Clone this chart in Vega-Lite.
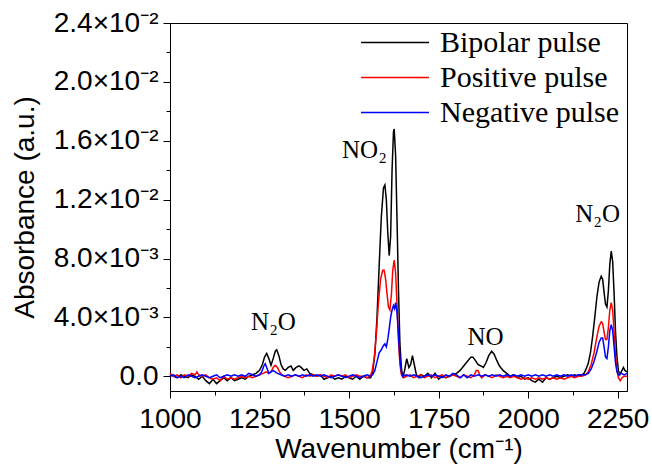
{
  "$schema": "https://vega.github.io/schema/vega-lite/v6.json",
  "width": 457,
  "height": 368,
  "autosize": {"type": "none"},
  "padding": {"left": 170, "top": 23, "right": 25, "bottom": 79},
  "background": "white",
  "config": {
    "view": {"stroke": "black", "strokeWidth": 1},
    "axis": {
      "labelFont": "Liberation Sans", "titleFont": "Liberation Sans",
      "labelFontSize": 28, "titleFontSize": 28, "titleFontWeight": "normal",
      "labelColor": "black", "titleColor": "black", "tickColor": "black", "domainColor": "black",
      "grid": false, "tickWidth": 1, "domainWidth": 1
    },
    "legend": {
      "labelFont": "Liberation Serif", "labelFontSize": 30, "labelColor": "black", "labelLimit": 400
    }
  },
  "datasets": {
    "bipolar": [
      {"w":1000,"a":0.0001},{"w":1010,"a":0.0000},{"w":1020,"a":-0.0001},{"w":1030,"a":0.0001},{"w":1040,"a":0.0000},
      {"w":1050,"a":-0.0001},{"w":1060,"a":0.0001},{"w":1070,"a":0.0000},{"w":1080,"a":-0.0002},{"w":1090,"a":0.0000},
      {"w":1100,"a":-0.0003},{"w":1110,"a":-0.0005},{"w":1120,"a":-0.0002},{"w":1130,"a":-0.0005},{"w":1140,"a":-0.0003},
      {"w":1150,"a":-0.0001},{"w":1160,"a":-0.0003},{"w":1170,"a":-0.0001},{"w":1180,"a":-0.0003},{"w":1190,"a":-0.0002},
      {"w":1200,"a":-0.0001},{"w":1210,"a":-0.0002},{"w":1220,"a":0.0000},{"w":1230,"a":0.0001},{"w":1240,"a":0.0002},
      {"w":1250,"a":0.0004},{"w":1258,"a":0.0008},{"w":1264,"a":0.0013},{"w":1270,"a":0.00155},{"w":1276,"a":0.0012},
      {"w":1282,"a":0.00075},{"w":1288,"a":0.0012},{"w":1294,"a":0.0017},{"w":1298,"a":0.0018},{"w":1304,"a":0.0014},
      {"w":1310,"a":0.0008},{"w":1316,"a":0.0005},{"w":1322,"a":0.0004},{"w":1330,"a":0.0006},{"w":1338,"a":0.0007},
      {"w":1344,"a":0.0004},{"w":1352,"a":0.0006},{"w":1360,"a":0.0007},{"w":1366,"a":0.0006},{"w":1374,"a":0.0004},
      {"w":1382,"a":0.0005},{"w":1390,"a":0.0002},{"w":1400,"a":0.0001},{"w":1410,"a":0.0000},{"w":1420,"a":0.0001},
      {"w":1430,"a":-0.0002},{"w":1440,"a":-0.0001},{"w":1450,"a":0.0000},{"w":1460,"a":-0.0002},{"w":1470,"a":-0.0001},
      {"w":1480,"a":-0.0002},{"w":1490,"a":0.0000},{"w":1500,"a":-0.0001},{"w":1510,"a":-0.0002},{"w":1520,"a":0.0000},
      {"w":1530,"a":-0.0002},{"w":1540,"a":0.0000},{"w":1550,"a":-0.0001},{"w":1560,"a":-0.0001},{"w":1566,"a":0.0003},
      {"w":1572,"a":0.0015},{"w":1578,"a":0.0040},{"w":1584,"a":0.0075},{"w":1590,"a":0.0108},{"w":1596,"a":0.0128},
      {"w":1600,"a":0.0130},{"w":1604,"a":0.0120},{"w":1608,"a":0.0098},{"w":1612,"a":0.0082},{"w":1616,"a":0.0095},
      {"w":1620,"a":0.0140},{"w":1624,"a":0.0166},{"w":1626,"a":0.0168},{"w":1630,"a":0.0150},{"w":1634,"a":0.0105},
      {"w":1638,"a":0.0058},{"w":1642,"a":0.0022},{"w":1646,"a":0.0006},{"w":1650,"a":-0.0001},{"w":1655,"a":0.0004},
      {"w":1661,"a":0.0012},{"w":1667,"a":0.0006},{"w":1672,"a":0.0008},{"w":1677,"a":0.0014},{"w":1682,"a":0.0008},
      {"w":1688,"a":0.0001},{"w":1695,"a":-0.0001},{"w":1700,"a":0.0001},{"w":1710,"a":0.0000},{"w":1720,"a":0.0002},
      {"w":1730,"a":-0.0001},{"w":1740,"a":0.0002},{"w":1750,"a":-0.0002},{"w":1760,"a":0.0000},{"w":1770,"a":-0.0001},
      {"w":1780,"a":0.0000},{"w":1790,"a":0.0001},{"w":1800,"a":0.0002},{"w":1810,"a":0.0004},{"w":1820,"a":0.0007},
      {"w":1830,"a":0.0010},{"w":1840,"a":0.0013},{"w":1846,"a":0.0013},{"w":1852,"a":0.0011},{"w":1860,"a":0.0008},
      {"w":1868,"a":0.0007},{"w":1875,"a":0.0006},{"w":1882,"a":0.0009},{"w":1890,"a":0.0014},{"w":1898,"a":0.0017},
      {"w":1905,"a":0.0015},{"w":1912,"a":0.0011},{"w":1920,"a":0.0007},{"w":1930,"a":0.0004},{"w":1940,"a":0.0002},
      {"w":1950,"a":0.0000},{"w":1960,"a":0.0001},{"w":1970,"a":-0.0001},{"w":1980,"a":0.0000},{"w":1990,"a":-0.0002},
      {"w":2000,"a":-0.0001},{"w":2010,"a":-0.0003},{"w":2020,"a":-0.0004},{"w":2030,"a":-0.0002},{"w":2040,"a":-0.0004},
      {"w":2050,"a":-0.0001},{"w":2060,"a":-0.0002},{"w":2070,"a":-0.0001},{"w":2080,"a":0.0000},{"w":2090,"a":-0.0001},
      {"w":2100,"a":0.0000},{"w":2110,"a":0.0001},{"w":2120,"a":0.0000},{"w":2130,"a":0.0001},{"w":2140,"a":0.0000},
      {"w":2150,"a":0.0001},{"w":2156,"a":0.0002},{"w":2162,"a":0.0005},{"w":2168,"a":0.0009},{"w":2174,"a":0.0016},
      {"w":2180,"a":0.0027},{"w":2186,"a":0.0040},{"w":2192,"a":0.0054},{"w":2198,"a":0.0064},{"w":2204,"a":0.0068},
      {"w":2208,"a":0.0066},{"w":2212,"a":0.0057},{"w":2216,"a":0.0049},{"w":2220,"a":0.0047},{"w":2224,"a":0.0058},
      {"w":2228,"a":0.0076},{"w":2232,"a":0.0085},{"w":2236,"a":0.0078},{"w":2240,"a":0.0056},{"w":2244,"a":0.0030},
      {"w":2248,"a":0.0013},{"w":2252,"a":0.0004},{"w":2256,"a":0.0001},{"w":2260,"a":0.0003},{"w":2266,"a":0.0006},
      {"w":2270,"a":0.0004},{"w":2276,"a":0.0003}
    ],
    "positive": [
      {"w":1000,"a":0.0002},{"w":1010,"a":0.0000},{"w":1020,"a":0.0001},{"w":1030,"a":-0.0001},{"w":1040,"a":0.0001},
      {"w":1050,"a":0.0000},{"w":1060,"a":0.0002},{"w":1070,"a":0.0001},{"w":1075,"a":0.0003},{"w":1080,"a":0.0001},
      {"w":1090,"a":0.0000},{"w":1100,"a":0.0001},{"w":1110,"a":-0.0001},{"w":1120,"a":-0.0002},{"w":1130,"a":-0.0001},
      {"w":1140,"a":-0.0003},{"w":1150,"a":0.0000},{"w":1160,"a":-0.0002},{"w":1170,"a":-0.0001},{"w":1180,"a":-0.0002},
      {"w":1190,"a":-0.0001},{"w":1200,"a":0.0000},{"w":1210,"a":-0.0001},{"w":1220,"a":0.0000},{"w":1230,"a":-0.0001},
      {"w":1240,"a":0.0000},{"w":1250,"a":0.0001},{"w":1260,"a":0.0002},{"w":1268,"a":0.0003},{"w":1276,"a":0.0002},
      {"w":1282,"a":0.0003},{"w":1288,"a":0.0006},{"w":1294,"a":0.00075},{"w":1300,"a":0.0006},{"w":1306,"a":0.0003},
      {"w":1312,"a":0.0001},{"w":1320,"a":0.0000},{"w":1330,"a":-0.0001},{"w":1340,"a":0.0000},{"w":1350,"a":0.0001},
      {"w":1360,"a":0.0000},{"w":1370,"a":-0.0001},{"w":1380,"a":0.0001},{"w":1390,"a":0.0000},{"w":1400,"a":0.0001},
      {"w":1410,"a":0.0000},{"w":1420,"a":0.0001},{"w":1430,"a":0.0000},{"w":1440,"a":-0.0001},{"w":1450,"a":0.0001},
      {"w":1460,"a":0.0000},{"w":1470,"a":0.0001},{"w":1480,"a":0.0000},{"w":1490,"a":0.0001},{"w":1500,"a":-0.0001},
      {"w":1510,"a":0.0000},{"w":1520,"a":0.0001},{"w":1530,"a":0.0000},{"w":1540,"a":0.0000},{"w":1550,"a":-0.0001},
      {"w":1558,"a":0.0000},{"w":1564,"a":0.0003},{"w":1570,"a":0.0012},{"w":1576,"a":0.0028},{"w":1582,"a":0.0050},
      {"w":1588,"a":0.0066},{"w":1594,"a":0.0072},{"w":1598,"a":0.0072},{"w":1602,"a":0.0066},{"w":1606,"a":0.0056},
      {"w":1610,"a":0.0047},{"w":1614,"a":0.0045},{"w":1618,"a":0.0055},{"w":1622,"a":0.0072},{"w":1626,"a":0.0079},
      {"w":1630,"a":0.0070},{"w":1634,"a":0.0048},{"w":1638,"a":0.0024},{"w":1642,"a":0.0008},{"w":1646,"a":0.0001},
      {"w":1652,"a":-0.0001},{"w":1660,"a":0.0000},{"w":1670,"a":0.0001},{"w":1680,"a":-0.0001},{"w":1690,"a":0.0000},
      {"w":1700,"a":0.0001},{"w":1710,"a":-0.0001},{"w":1720,"a":0.0000},{"w":1730,"a":0.0001},{"w":1740,"a":-0.0001},
      {"w":1750,"a":0.0000},{"w":1760,"a":0.0001},{"w":1770,"a":-0.0001},{"w":1780,"a":0.0000},{"w":1790,"a":0.0001},
      {"w":1800,"a":0.0000},{"w":1810,"a":-0.0001},{"w":1820,"a":0.0001},{"w":1830,"a":0.0000},{"w":1840,"a":-0.0001},
      {"w":1850,"a":0.0001},{"w":1855,"a":0.0004},{"w":1860,"a":0.0004},{"w":1865,"a":0.0001},{"w":1870,"a":-0.0001},
      {"w":1880,"a":0.0001},{"w":1890,"a":0.0000},{"w":1900,"a":-0.0001},{"w":1910,"a":0.0001},{"w":1920,"a":0.0000},
      {"w":1930,"a":-0.0001},{"w":1940,"a":0.0000},{"w":1950,"a":-0.0001},{"w":1960,"a":0.0000},{"w":1970,"a":-0.0001},
      {"w":1980,"a":-0.0002},{"w":1990,"a":-0.0001},{"w":2000,"a":-0.0002},{"w":2010,"a":-0.0001},{"w":2020,"a":-0.0002},
      {"w":2030,"a":-0.0001},{"w":2040,"a":-0.0002},{"w":2050,"a":-0.0001},{"w":2060,"a":-0.0002},{"w":2070,"a":-0.0001},
      {"w":2080,"a":-0.0002},{"w":2090,"a":-0.0001},{"w":2100,"a":-0.0002},{"w":2110,"a":-0.0001},{"w":2120,"a":0.0000},
      {"w":2130,"a":-0.0001},{"w":2140,"a":0.0000},{"w":2150,"a":0.0000},{"w":2160,"a":0.0001},{"w":2168,"a":0.0003},
      {"w":2176,"a":0.0008},{"w":2184,"a":0.0016},{"w":2192,"a":0.0027},{"w":2198,"a":0.0034},{"w":2204,"a":0.0037},
      {"w":2208,"a":0.0036},{"w":2212,"a":0.0030},{"w":2216,"a":0.0025},{"w":2220,"a":0.0025},{"w":2224,"a":0.0033},
      {"w":2228,"a":0.0045},{"w":2232,"a":0.0050},{"w":2236,"a":0.0045},{"w":2240,"a":0.0030},{"w":2244,"a":0.0014},
      {"w":2248,"a":0.0004},{"w":2252,"a":-0.0001},{"w":2257,"a":-0.0003},{"w":2262,"a":-0.0001},{"w":2268,"a":0.0000},
      {"w":2276,"a":0.0000}
    ],
    "negative": [
      {"w":1000,"a":0.0000},{"w":1010,"a":0.0001},{"w":1020,"a":-0.0001},{"w":1030,"a":0.0000},{"w":1040,"a":-0.0001},
      {"w":1050,"a":0.0001},{"w":1060,"a":0.0000},{"w":1070,"a":-0.0001},{"w":1080,"a":0.0000},{"w":1090,"a":0.0001},
      {"w":1100,"a":0.0000},{"w":1110,"a":-0.0001},{"w":1120,"a":0.0000},{"w":1130,"a":0.0001},{"w":1140,"a":-0.0001},
      {"w":1150,"a":0.0000},{"w":1160,"a":0.0001},{"w":1170,"a":0.0000},{"w":1180,"a":0.0001},{"w":1190,"a":0.0000},
      {"w":1200,"a":0.0001},{"w":1210,"a":0.0000},{"w":1220,"a":0.0002},{"w":1230,"a":0.0001},{"w":1240,"a":0.0000},
      {"w":1250,"a":0.0001},{"w":1256,"a":0.0003},{"w":1262,"a":0.0007},{"w":1266,"a":0.00086},{"w":1270,"a":0.0006},
      {"w":1276,"a":0.0002},{"w":1282,"a":0.0003},{"w":1288,"a":0.0004},{"w":1294,"a":0.0003},{"w":1300,"a":0.0002},
      {"w":1310,"a":0.0001},{"w":1320,"a":0.0000},{"w":1330,"a":0.0001},{"w":1340,"a":0.0000},{"w":1350,"a":0.0001},
      {"w":1360,"a":0.0000},{"w":1370,"a":0.0001},{"w":1380,"a":0.0000},{"w":1390,"a":0.0001},{"w":1400,"a":0.0000},
      {"w":1410,"a":0.0001},{"w":1420,"a":0.0000},{"w":1430,"a":0.0001},{"w":1440,"a":0.0000},{"w":1450,"a":-0.0001},
      {"w":1460,"a":0.0000},{"w":1470,"a":0.0001},{"w":1480,"a":0.0000},{"w":1490,"a":-0.0001},{"w":1500,"a":0.0000},
      {"w":1510,"a":0.0001},{"w":1520,"a":0.0000},{"w":1530,"a":-0.0001},{"w":1540,"a":0.0000},{"w":1550,"a":0.0001},
      {"w":1560,"a":0.0000},{"w":1566,"a":0.0001},{"w":1572,"a":0.0004},{"w":1578,"a":0.0010},{"w":1584,"a":0.0016},
      {"w":1590,"a":0.0018},{"w":1596,"a":0.0021},{"w":1600,"a":0.0022},{"w":1604,"a":0.0020},{"w":1608,"a":0.0025},
      {"w":1612,"a":0.0032},{"w":1616,"a":0.0040},{"w":1620,"a":0.0045},{"w":1624,"a":0.0048},{"w":1627,"a":0.0046},
      {"w":1630,"a":0.0050},{"w":1634,"a":0.0043},{"w":1638,"a":0.0028},{"w":1642,"a":0.0012},{"w":1646,"a":0.0003},
      {"w":1650,"a":0.0000},{"w":1660,"a":0.0001},{"w":1670,"a":0.0000},{"w":1680,"a":0.0001},{"w":1690,"a":0.0000},
      {"w":1700,"a":-0.0001},{"w":1710,"a":0.0000},{"w":1720,"a":0.0001},{"w":1730,"a":0.0000},{"w":1740,"a":0.0001},
      {"w":1750,"a":0.0000},{"w":1760,"a":-0.0001},{"w":1770,"a":0.0001},{"w":1780,"a":0.0000},{"w":1790,"a":0.0002},
      {"w":1800,"a":0.0001},{"w":1810,"a":-0.0001},{"w":1820,"a":0.0001},{"w":1830,"a":-0.0001},{"w":1840,"a":0.0001},
      {"w":1850,"a":0.0000},{"w":1860,"a":0.0001},{"w":1870,"a":0.0000},{"w":1880,"a":0.0001},{"w":1890,"a":0.0000},
      {"w":1900,"a":0.0001},{"w":1910,"a":0.0000},{"w":1920,"a":0.0001},{"w":1930,"a":0.0000},{"w":1940,"a":0.0001},
      {"w":1950,"a":0.0000},{"w":1960,"a":0.0001},{"w":1970,"a":0.0000},{"w":1980,"a":0.0001},{"w":1990,"a":0.0000},
      {"w":2000,"a":0.0001},{"w":2010,"a":0.0000},{"w":2020,"a":0.0001},{"w":2030,"a":0.0000},{"w":2040,"a":0.0001},
      {"w":2050,"a":0.0000},{"w":2060,"a":0.0001},{"w":2070,"a":0.0000},{"w":2080,"a":0.0001},{"w":2090,"a":0.0000},
      {"w":2100,"a":0.0001},{"w":2110,"a":0.0000},{"w":2120,"a":0.0001},{"w":2130,"a":0.0000},{"w":2140,"a":0.0001},
      {"w":2150,"a":0.0001},{"w":2160,"a":0.0001},{"w":2168,"a":0.0002},{"w":2176,"a":0.0005},{"w":2184,"a":0.0010},
      {"w":2192,"a":0.0017},{"w":2198,"a":0.0023},{"w":2204,"a":0.0026},{"w":2208,"a":0.0026},{"w":2212,"a":0.0020},
      {"w":2216,"a":0.0013},{"w":2220,"a":0.0012},{"w":2224,"a":0.0020},{"w":2228,"a":0.0031},{"w":2232,"a":0.0035},
      {"w":2236,"a":0.0031},{"w":2240,"a":0.0020},{"w":2244,"a":0.0009},{"w":2248,"a":0.0003},{"w":2252,"a":0.0001},
      {"w":2260,"a":0.0002},{"w":2268,"a":0.0001},{"w":2276,"a":0.0002}
    ],
    "labels": [
      {"w":1289,"a":0.00371,"t":"N₂O"},
      {"w":1543,"a":0.01537,"t":"NO₂"},
      {"w":1881,"a":0.00267,"t":"NO"},
      {"w":2194,"a":0.01105,"t":"N₂O"}
    ]
  },
  "layer": [
    {
      "data": {"name": "bipolar"},
      "mark": {"type": "line", "strokeWidth": 1.5},
      "encoding": {
        "x": {"field": "w", "type": "quantitative", "scale": {"domain": [1000, 2276], "nice": false, "zero": false},
              "axis": {"orient": "bottom", "values": [1000,1250,1500,1750,2000,2250], "format": "d", "tickSize": 7, "labelPadding": 7, "title": "Wavenumber (cm⁻¹)", "titlePadding": 2, "labelFlush": false}},
        "y": {"field": "a", "type": "quantitative", "scale": {"domain": [-0.001, 0.024], "nice": false, "zero": false},
              "axis": {"orient": "left", "values": [0,0.004,0.008,0.012,0.016,0.02,0.024], "tickSize": 7, "labelPadding": 5, "title": "Absorbance (a.u.)", "titlePadding": 14,
                       "labelExpr": "datum.value == 0 ? '0.0' : (datum.value < 0.01 ? format(datum.value*1000, '.1f') + '×10⁻³' : format(datum.value*100, '.1f') + '×10⁻²')"}},
        "color": {"datum": "Bipolar pulse", "type": "nominal",
                  "scale": {"domain": ["Bipolar pulse", "Positive pulse", "Negative pulse"], "range": ["#000000", "#ff0000", "#0000ff"]},
                  "legend": {"orient": "none", "legendX": 190, "legendY": 2, "title": null, "symbolType": "stroke", "symbolSize": 4624, "symbolStrokeWidth": 1.5, "labelOffset": 10, "rowPadding": 0, "clipHeight": 35, "padding": 0}}
      }
    },
    {
      "data": {"name": "positive"},
      "mark": {"type": "line", "strokeWidth": 1.5},
      "encoding": {
        "x": {"field": "w", "type": "quantitative", "axis": null},
        "y": {"field": "a", "type": "quantitative", "axis": null},
        "color": {"datum": "Positive pulse", "type": "nominal"}
      }
    },
    {
      "data": {"name": "negative"},
      "mark": {"type": "line", "strokeWidth": 1.5},
      "encoding": {
        "x": {"field": "w", "type": "quantitative", "axis": null},
        "y": {"field": "a", "type": "quantitative", "axis": null},
        "color": {"datum": "Negative pulse", "type": "nominal"}
      }
    },
    {
      "data": {"name": "labels"},
      "mark": {"type": "text", "font": "Liberation Serif", "fontSize": 25, "color": "black", "baseline": "middle", "align": "center"},
      "encoding": {
        "x": {"field": "w", "type": "quantitative",
              "axis": {"orient": "bottom", "values": [1125,1375,1625,1875,2125], "labels": false, "domain": false, "tickSize": 4, "title": null}},
        "y": {"field": "a", "type": "quantitative",
              "axis": {"orient": "left", "values": [0.002,0.006,0.01,0.014,0.018,0.022], "labels": false, "domain": false, "tickSize": 4, "title": null}},
        "text": {"field": "t"}
      }
    }
  ],
  "resolve": {"axis": {"x": "independent", "y": "independent"}, "scale": {"x": "shared", "y": "shared"}}
}
